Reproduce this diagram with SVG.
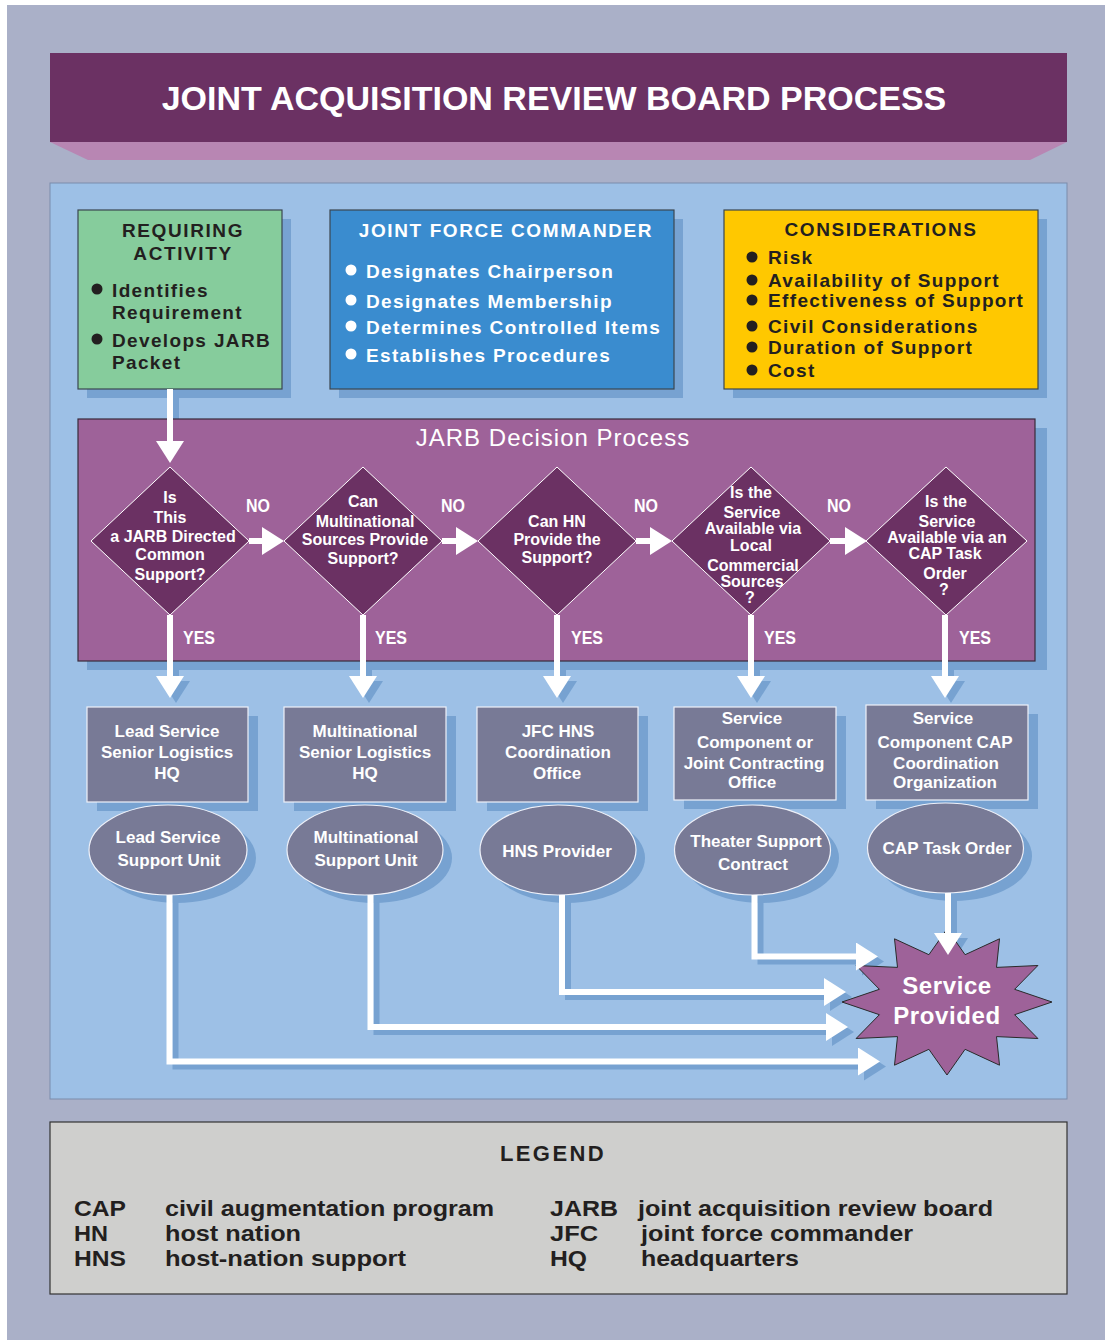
<svg xmlns="http://www.w3.org/2000/svg" width="1105" height="1340" viewBox="0 0 1105 1340">
<defs>
<style>
text{font-family:"Liberation Sans",Arial,Helvetica,sans-serif;font-weight:bold}
.w{fill:#fff}
.k{fill:#231f20}
.c{text-anchor:middle}
.hd{font-size:19px;letter-spacing:1.6px}
.bl{font-size:19px;letter-spacing:1.35px}
.sh{fill:#77a2d1}
.box{stroke:#3b4650;stroke-width:1.2}
.dia{fill:#6b3163;stroke:#fff;stroke-width:1}
.dt{font-size:16px;fill:#fff;text-anchor:middle}
.lbl{font-size:18px;fill:#fff}
.nd{fill:#787a96;stroke:#eef0f8;stroke-width:1.2}
.nt{font-size:17px;fill:#fff;text-anchor:middle}
.ln{fill:none;stroke:#fff;stroke-width:6;marker-end:url(#ah)}
.lns{fill:none;stroke:#77a2d1;stroke-width:6;marker-end:url(#ahs)}
.lg{font-size:22px;fill:#231f20}
</style>
<marker id="ah" markerUnits="userSpaceOnUse" markerWidth="22" markerHeight="28" viewBox="0 0 22 28" refX="2" refY="14" orient="auto"><path d="M0,0 L22,14 L0,28 Z" fill="#fff"/></marker>
<marker id="ahs" markerUnits="userSpaceOnUse" markerWidth="22" markerHeight="28" viewBox="0 0 22 28" refX="2" refY="14" orient="auto"><path d="M0,0 L22,14 L0,28 Z" fill="#77a2d1"/></marker>
</defs>

<rect x="7" y="5" width="1098" height="1335" fill="#aab0c8"/>

<g id="title">
<polygon points="50,142 1067,142 1030,160 88,160" fill="#b886b3"/>
<rect x="50" y="53" width="1017" height="89" fill="#6b3163"/>
<text x="554" y="110" class="w c" font-size="34">JOINT ACQUISITION REVIEW BOARD PROCESS</text>
</g>

<rect id="main-panel" x="50" y="183" width="1017" height="916" fill="#9dc0e6" stroke="#7b8cab" stroke-width="1"/>

<g id="requiring-activity">
<rect class="sh" x="87" y="219" width="204" height="179"/>
<rect class="box" x="78" y="210" width="204" height="179" fill="#86cc9c"/>
<text x="183" y="237" class="k c hd">REQUIRING</text>
<text x="183" y="260" class="k c hd">ACTIVITY</text>
<circle cx="97" cy="289" r="5.5" fill="#231f20"/>
<text x="112" y="297" class="k bl">Identifies</text>
<text x="112" y="319" class="k bl">Requirement</text>
<circle cx="97" cy="339" r="5.5" fill="#231f20"/>
<text x="112" y="347" class="k bl">Develops JARB</text>
<text x="112" y="369" class="k bl">Packet</text>
</g>

<g id="joint-force-commander">
<rect class="sh" x="339" y="219" width="344" height="179"/>
<rect class="box" x="330" y="210" width="344" height="179" fill="#3a8ccf"/>
<text x="506" y="237" class="w c hd">JOINT FORCE COMMANDER</text>
<circle cx="351" cy="270" r="5.5" fill="#fff"/>
<text x="366" y="278" class="w bl">Designates Chairperson</text>
<circle cx="351" cy="300" r="5.5" fill="#fff"/>
<text x="366" y="308" class="w bl">Designates Membership</text>
<circle cx="351" cy="326" r="5.5" fill="#fff"/>
<text x="366" y="334" class="w bl">Determines Controlled Items</text>
<circle cx="351" cy="354" r="5.5" fill="#fff"/>
<text x="366" y="362" class="w bl">Establishes Procedures</text>
</g>

<g id="considerations">
<rect class="sh" x="733" y="219" width="314" height="179"/>
<rect class="box" x="724" y="210" width="314" height="179" fill="#ffc800"/>
<text x="881" y="236" class="k c hd">CONSIDERATIONS</text>
<circle cx="752" cy="257" r="5.5" fill="#231f20"/>
<text x="768" y="264" class="k bl">Risk</text>
<circle cx="752" cy="280" r="5.5" fill="#231f20"/>
<text x="768" y="287" class="k bl">Availability of Support</text>
<circle cx="752" cy="300" r="5.5" fill="#231f20"/>
<text x="768" y="307" class="k bl">Effectiveness of Support</text>
<circle cx="752" cy="326" r="5.5" fill="#231f20"/>
<text x="768" y="333" class="k bl">Civil Considerations</text>
<circle cx="752" cy="347" r="5.5" fill="#231f20"/>
<text x="768" y="354" class="k bl">Duration of Support</text>
<circle cx="752" cy="370" r="5.5" fill="#231f20"/>
<text x="768" y="377" class="k bl">Cost</text>
</g>

<g id="connector-shadows" transform="translate(6,5)">
<path class="lns" d="M170,389 V443"/>
<path class="lns" d="M170,615 V678"/>
<path class="lns" d="M363,615 V678"/>
<path class="lns" d="M557,615 V678"/>
<path class="lns" d="M751,615 V678"/>
<path class="lns" d="M945,615 V678"/>
<path class="lns" d="M948,893 V935"/>
<path class="lns" d="M754.5,895 V956.5 H858"/>
<path class="lns" d="M562,895 V992 H826"/>
<path class="lns" d="M370.5,895 V1027 H828"/>
<path class="lns" d="M169.5,895 V1061.5 H860"/>
</g>

<g id="jarb-decision-process">
<rect class="sh" x="87" y="428" width="960" height="242"/>
<rect x="78" y="419" width="957" height="242" fill="#9e6299" stroke="#3a2a3a" stroke-width="1.2"/>
<text x="553" y="446" class="w c" font-size="24" style="font-weight:normal;letter-spacing:1px">JARB Decision Process</text>
</g>

<g id="decision-1">
<path class="dia" d="M170,467 L249,541 L170,615 L91,541 Z"/>
<text class="dt" x="170" y="503">Is</text>
<text class="dt" x="170" y="523">This</text>
<text class="dt" x="173" y="542">a JARB Directed</text>
<text class="dt" x="170" y="560">Common</text>
<text class="dt" x="170" y="580">Support?</text>
</g>
<g id="decision-2">
<path class="dia" d="M363,467 L442,541 L363,615 L284,541 Z"/>
<text class="dt" x="363" y="507">Can</text>
<text class="dt" x="365" y="527">Multinational</text>
<text class="dt" x="365" y="545">Sources Provide</text>
<text class="dt" x="363" y="564">Support?</text>
</g>
<g id="decision-3">
<path class="dia" d="M557,467 L636,541 L557,615 L478,541 Z"/>
<text class="dt" x="557" y="527">Can HN</text>
<text class="dt" x="557" y="545">Provide the</text>
<text class="dt" x="557" y="563">Support?</text>
</g>
<g id="decision-4">
<path class="dia" d="M751,467 L830,541 L751,615 L672,541 Z"/>
<text class="dt" x="751" y="498">Is the</text>
<text class="dt" x="752" y="518">Service</text>
<text class="dt" x="753" y="534">Available via</text>
<text class="dt" x="751" y="551">Local</text>
<text class="dt" x="753" y="571">Commercial</text>
<text class="dt" x="752" y="587">Sources</text>
<text class="dt" x="750" y="603">?</text>
</g>
<g id="decision-5">
<path class="dia" d="M946,467 L1027,541 L946,615 L866,541 Z"/>
<text class="dt" x="946" y="507">Is the</text>
<text class="dt" x="947" y="527">Service</text>
<text class="dt" x="947" y="543">Available via an</text>
<text class="dt" x="945" y="559">CAP Task</text>
<text class="dt" x="945" y="579">Order</text>
<text class="dt" x="944" y="595">?</text>
</g>

<g id="box-1">
<rect class="sh" x="97" y="716" width="161" height="95"/>
<rect class="nd" x="87" y="707" width="161" height="95"/>
<text class="nt" x="167" y="737">Lead Service</text>
<text class="nt" x="167" y="758">Senior Logistics</text>
<text class="nt" x="167" y="779">HQ</text>
</g>
<g id="box-2">
<rect class="sh" x="294" y="716" width="162" height="95"/>
<rect class="nd" x="284" y="707" width="162" height="95"/>
<text class="nt" x="365" y="737">Multinational</text>
<text class="nt" x="365" y="758">Senior Logistics</text>
<text class="nt" x="365" y="779">HQ</text>
</g>
<g id="box-3">
<rect class="sh" x="487" y="716" width="161" height="95"/>
<rect class="nd" x="477" y="707" width="161" height="95"/>
<text class="nt" x="558" y="737">JFC HNS</text>
<text class="nt" x="558" y="758">Coordination</text>
<text class="nt" x="557" y="779">Office</text>
</g>
<g id="box-4">
<rect class="sh" x="684" y="716" width="162" height="93"/>
<rect class="nd" x="674" y="707" width="162" height="93"/>
<text class="nt" x="752" y="724">Service</text>
<text class="nt" x="755" y="748">Component or</text>
<text class="nt" x="754" y="769">Joint Contracting</text>
<text class="nt" x="752" y="788">Office</text>
</g>
<g id="box-5">
<rect class="sh" x="876" y="714" width="162" height="95"/>
<rect class="nd" x="866" y="705" width="162" height="95"/>
<text class="nt" x="943" y="724">Service</text>
<text class="nt" x="945" y="748">Component CAP</text>
<text class="nt" x="946" y="769">Coordination</text>
<text class="nt" x="945" y="788">Organization</text>
</g>

<g id="ellipse-1">
<ellipse class="sh" cx="177" cy="858" rx="79" ry="45"/>
<ellipse class="nd" cx="168" cy="850" rx="79" ry="45"/>
<text class="nt" x="168" y="843">Lead Service</text>
<text class="nt" x="169" y="866">Support Unit</text>
</g>
<g id="ellipse-2">
<ellipse class="sh" cx="374" cy="858" rx="78" ry="45"/>
<ellipse class="nd" cx="365" cy="850" rx="78" ry="45"/>
<text class="nt" x="366" y="843">Multinational</text>
<text class="nt" x="366" y="866">Support Unit</text>
</g>
<g id="ellipse-3">
<ellipse class="sh" cx="567" cy="858" rx="78" ry="45"/>
<ellipse class="nd" cx="558" cy="850" rx="78" ry="45"/>
<text class="nt" x="557" y="857">HNS Provider</text>
</g>
<g id="ellipse-4">
<ellipse class="sh" cx="761" cy="858" rx="78" ry="45"/>
<ellipse class="nd" cx="752.5" cy="850" rx="78" ry="45"/>
<text class="nt" x="756" y="847">Theater Support</text>
<text class="nt" x="753" y="870">Contract</text>
</g>
<g id="ellipse-5">
<ellipse class="sh" cx="954" cy="856" rx="78" ry="45"/>
<ellipse class="nd" cx="945.5" cy="848" rx="78" ry="45"/>
<text class="nt" x="947" y="854">CAP Task Order</text>
</g>

<g id="service-provided">
<polygon points="1052,1002 1014.6,1014.7 1037.9,1038.5 996.5,1036.6 999.5,1065.2 965.1,1049.3 947,1075 928.9,1049.3 894.5,1065.2 897.5,1036.6 856.1,1038.5 879.4,1014.7 842,1002 879.4,989.3 856.1,965.5 897.5,967.4 894.5,938.8 928.9,954.7 947,929 965.1,954.7 999.5,938.8 996.5,967.4 1037.9,965.5 1014.6,989.3" fill="#9e6299" stroke="#2a2a2a" stroke-width="1"/>
<text x="947" y="994" class="w c" font-size="24" style="letter-spacing:0.6px">Service</text>
<text x="947" y="1024" class="w c" font-size="24" style="letter-spacing:0.6px">Provided</text>
</g>

<g id="connectors">
<path class="ln" d="M170,389 V443"/>
<path class="ln" d="M249,541 H264"/>
<path class="ln" d="M442,541 H458"/>
<path class="ln" d="M636,541 H652"/>
<path class="ln" d="M830,541 H847"/>
<path class="ln" d="M170,615 V678"/>
<path class="ln" d="M363,615 V678"/>
<path class="ln" d="M557,615 V678"/>
<path class="ln" d="M751,615 V678"/>
<path class="ln" d="M945,615 V678"/>
<path class="ln" d="M948,893 V935"/>
<path class="ln" d="M754.5,895 V956.5 H858"/>
<path class="ln" d="M562,895 V992 H826"/>
<path class="ln" d="M370.5,895 V1027 H828"/>
<path class="ln" d="M169.5,895 V1061.5 H860"/>
<text class="lbl" x="246" y="512" textLength="24" lengthAdjust="spacingAndGlyphs">NO</text>
<text class="lbl" x="441" y="512" textLength="24" lengthAdjust="spacingAndGlyphs">NO</text>
<text class="lbl" x="634" y="512" textLength="24" lengthAdjust="spacingAndGlyphs">NO</text>
<text class="lbl" x="827" y="512" textLength="24" lengthAdjust="spacingAndGlyphs">NO</text>
<text class="lbl" x="183" y="644" textLength="32" lengthAdjust="spacingAndGlyphs">YES</text>
<text class="lbl" x="375" y="644" textLength="32" lengthAdjust="spacingAndGlyphs">YES</text>
<text class="lbl" x="571" y="644" textLength="32" lengthAdjust="spacingAndGlyphs">YES</text>
<text class="lbl" x="764" y="644" textLength="32" lengthAdjust="spacingAndGlyphs">YES</text>
<text class="lbl" x="959" y="644" textLength="32" lengthAdjust="spacingAndGlyphs">YES</text>
</g>

<g id="legend">
<rect x="50" y="1122" width="1017" height="172" fill="#cfcfcd" stroke="#333" stroke-width="1.2"/>
<text x="553" y="1161" class="k c" font-size="22" style="letter-spacing:2.4px">LEGEND</text>
<text class="lg" x="74" y="1216" textLength="52" lengthAdjust="spacingAndGlyphs">CAP</text>
<text class="lg" x="165" y="1216" textLength="329" lengthAdjust="spacingAndGlyphs">civil augmentation program</text>
<text class="lg" x="74" y="1241" textLength="34" lengthAdjust="spacingAndGlyphs">HN</text>
<text class="lg" x="165" y="1241" textLength="136" lengthAdjust="spacingAndGlyphs">host nation</text>
<text class="lg" x="74" y="1266" textLength="52" lengthAdjust="spacingAndGlyphs">HNS</text>
<text class="lg" x="165" y="1266" textLength="241" lengthAdjust="spacingAndGlyphs">host-nation support</text>
<text class="lg" x="550" y="1216" textLength="68" lengthAdjust="spacingAndGlyphs">JARB</text>
<text class="lg" x="638" y="1216" textLength="355" lengthAdjust="spacingAndGlyphs">joint acquisition review board</text>
<text class="lg" x="550" y="1241" textLength="48" lengthAdjust="spacingAndGlyphs">JFC</text>
<text class="lg" x="641" y="1241" textLength="272" lengthAdjust="spacingAndGlyphs">joint force commander</text>
<text class="lg" x="550" y="1266" textLength="37" lengthAdjust="spacingAndGlyphs">HQ</text>
<text class="lg" x="641" y="1266" textLength="158" lengthAdjust="spacingAndGlyphs">headquarters</text>
</g>
</svg>
